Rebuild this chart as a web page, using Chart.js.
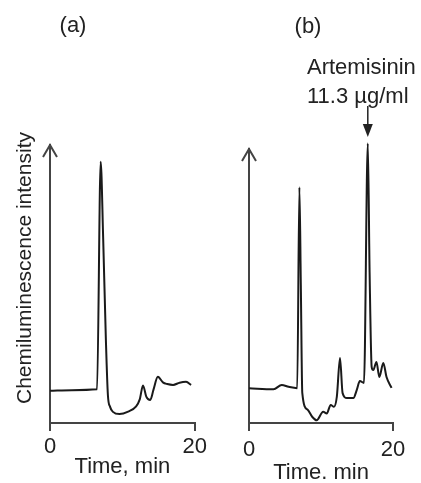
<!DOCTYPE html>
<html>
<head>
<meta charset="utf-8">
<script src="https://cdn.jsdelivr.net/npm/chart.js@4/dist/chart.umd.min.js"></script>
<style>
  html, body { margin: 0; padding: 0; background: #fff; width: 421px; height: 483px; overflow: hidden; }
  canvas { position: absolute; top: 0; }
  #ca { left: 0; }
  #cb { left: 210px; }
</style>
</head>
<body>
<canvas id="ca" width="210" height="483"></canvas>
<canvas id="cb" width="211" height="490"></canvas>
<script>
// ---- data ----
const xTicks = [0, 20];
const xTitleA = "Time, min";
const xTitleB = "Time. min";
const yTitle = "Chemiluminescence intensity";
const panelA = "(a)";
const panelB = "(b)";
const noteLine1 = "Artemisinin";
const noteLine2 = "11.3 µg/ml";
const notePeakTime = 16.5;

const timesA = [0, 3.0, 6.5, 7.0, 7.35, 7.72, 8.0, 8.3, 8.7, 9.6, 10.8, 11.9, 12.4, 12.85, 13.3, 13.85, 14.3, 14.9, 15.6, 16.2, 17.0, 17.9, 18.8, 19.5];
const valuesA = [11.6, 11.8, 12.1, 94, 66, 30, 10, 5.8, 4.0, 3.2, 4.1, 6.0, 8.5, 13.5, 9.5, 8.3, 12.0, 16.6, 14.6, 14.0, 13.7, 14.5, 14.8, 13.7];

const timesB = [0, 3.4, 4.55, 5.5, 6.7, 7.0, 7.2, 7.4, 8.1, 8.8, 9.4, 10.3, 10.8, 11.35, 11.8, 12.2, 12.64, 13.0, 13.6, 14.5, 14.96, 15.4, 15.97, 16.5, 16.75, 17.04, 17.26, 17.7, 18.1, 18.65, 19.1, 19.8];
const valuesB = [12.7, 12.3, 13.9, 13.2, 12.7, 86, 50, 11, 5, 2.2, 1.0, 4.1, 3.5, 6.6, 5.9, 9.6, 23.7, 10.9, 9.1, 9.1, 12.0, 15.3, 14.6, 102, 55, 20.4, 19.3, 22.3, 16.8, 21.9, 16.8, 12.8];

// ---- styling ----
const FONT = '"Liberation Sans", Arial, sans-serif';
const TEXT = '#222';
const AXIS = '#444';
const TRACE = '#1a1a1a';

function pts(t, v) { return t.map((x, i) => ({x: x, y: v[i]})); }

function arrowHead(ctx, x, y) {
  ctx.save();
  ctx.strokeStyle = AXIS; ctx.lineWidth = 2;
  ctx.beginPath();
  ctx.moveTo(x - 7, y + 12); ctx.lineTo(x, y); ctx.lineTo(x + 7, y + 12);
  ctx.stroke();
  ctx.restore();
}

function makeChart(id, times, values, opts) {
  return new Chart(document.getElementById(id), {
    type: 'line',
    data: { datasets: [{
      data: pts(times, values),
      borderColor: TRACE, borderWidth: 2, pointRadius: 0,
      cubicInterpolationMode: 'monotone', clip: false, fill: false
    }]},
    options: {
      responsive: false, animation: false, devicePixelRatio: 1,
      layout: { padding: opts.padding },
      plugins: { legend: {display: false}, tooltip: {enabled: false} },
      scales: {
        x: {
          type: 'linear', min: 0, max: 20,
          afterBuildTicks: s => { s.ticks = xTicks.map(v => ({value: v})); },
          afterFit: s => { s.height = opts.xHeight; },
          grid: { display: true, drawOnChartArea: false, drawTicks: true, tickLength: 8, color: AXIS, lineWidth: 2 },
          border: { display: true, color: AXIS, width: 2 },
          ticks: { color: TEXT, font: {family: FONT, size: 22}, padding: opts.tickPad, maxRotation: 0 },
          title: { display: true, text: opts.xTitle, color: TEXT, font: {family: FONT, size: 22}, padding: {top: 0, bottom: opts.titlePad} }
        },
        y: {
          type: 'linear', min: 0, max: 100,
          afterFit: s => { s.width = opts.yWidth; },
          grid: { display: false },
          border: { display: true, color: AXIS, width: 2 },
          ticks: { display: false }
        }
      }
    },
    plugins: [{ id: 'decor', afterDraw: opts.decor }]
  });
}

makeChart('ca', timesA, valuesA, {
  padding: {left: 0, top: 145, right: 15, bottom: 0},
  xHeight: 60, yWidth: 50, tickPad: 3, titlePad: 3, xTitle: xTitleA,
  decor: chart => {
    const ctx = chart.ctx, ca = chart.chartArea;
    arrowHead(ctx, ca.left, ca.top);
    ctx.save();
    ctx.fillStyle = TEXT;
    ctx.font = '22px ' + FONT;
    ctx.textAlign = 'center'; ctx.textBaseline = 'middle';
    ctx.fillText(panelA, 73, 26);
    ctx.translate(25, 268); ctx.rotate(-Math.PI / 2);
    ctx.font = '21px ' + FONT;
    ctx.fillText(yTitle, 0, 0);
    ctx.restore();
  }
});

makeChart('cb', timesB, valuesB, {
  padding: {left: 0, top: 149, right: 28, bottom: 0},
  xHeight: 67, yWidth: 39, tickPad: 6, titlePad: 4, xTitle: xTitleB,
  decor: chart => {
    const ctx = chart.ctx, ca = chart.chartArea;
    arrowHead(ctx, ca.left, ca.top);
    const px = chart.scales.x.getPixelForValue(notePeakTime);
    ctx.save();
    ctx.fillStyle = TEXT;
    ctx.font = '22px ' + FONT;
    ctx.textAlign = 'center'; ctx.textBaseline = 'middle';
    ctx.fillText(panelB, 98, 27);
    ctx.textAlign = 'left';
    ctx.fillText(noteLine1, 97, 68);
    ctx.fillText(noteLine2, 97, 97);
    ctx.strokeStyle = TEXT; ctx.lineWidth = 1.5;
    ctx.beginPath(); ctx.moveTo(px, 106); ctx.lineTo(px, 127); ctx.stroke();
    ctx.beginPath(); ctx.moveTo(px - 5, 124); ctx.lineTo(px + 5, 124); ctx.lineTo(px, 137); ctx.closePath(); ctx.fill();
    ctx.restore();
  }
});
</script>
</body>
</html>
